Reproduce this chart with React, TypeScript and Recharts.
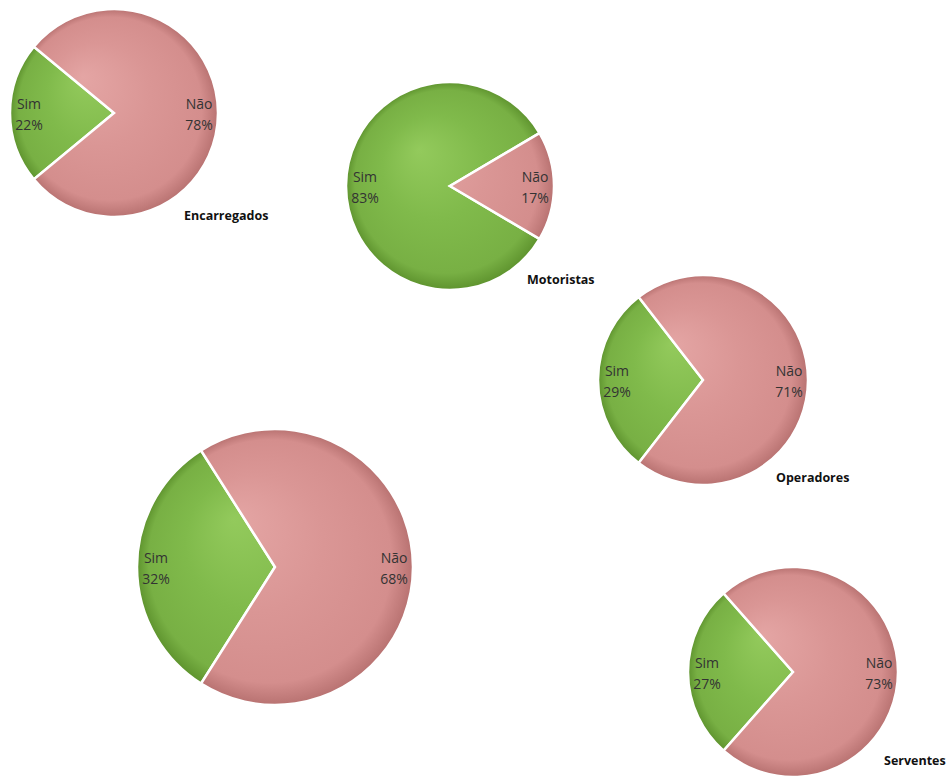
import React from "react";
import { PieChart, Pie, Cell } from "recharts";

const categories = ["Sim", "Não"];
const groups = ["Encarregados", "Motoristas", "Operadores", "", "Serventes"];
const encarregados = [22, 78];
const motoristas = [83, 17];
const operadores = [29, 71];
const geral = [32, 68];
const serventes = [27, 73];

const seriesList = [encarregados, motoristas, operadores, geral, serventes];

// where each pie sits on the page
const layout = [
  { cx: 114, cy: 113, r: 104, tx: 184, ty: 215 },
  { cx: 450, cy: 186, r: 104, tx: 527, ty: 279 },
  { cx: 703, cy: 380, r: 105, tx: 776, ty: 477 },
  { cx: 275, cy: 567, r: 138, tx: 0, ty: 0 },
  { cx: 793, cy: 672, r: 105, tx: 884, ty: 760 },
];

const PINK = ["#E4A5A4", "#DA9695", "#D48E8D", "#B87271"];
const GREEN = ["#93CA5C", "#80BA4B", "#78B044", "#5E932E"];

const RAD = Math.PI / 180;
const FONT = "'Open Sans', Lato, sans-serif";

function SliceLabel(props: any) {
  const { cx, cy, midAngle, outerRadius, name, value } = props;
  const rr = outerRadius - 19;
  const x = cx + rr * Math.cos(-midAngle * RAD);
  const y = cy + rr * Math.sin(-midAngle * RAD);
  return (
    <text x={x} y={y} textAnchor="middle" fill="#333" fontSize={14} fontFamily={FONT}>
      <tspan x={x} dy={-4}>
        {name}
      </tspan>
      <tspan x={x} dy={21}>
        {value}%
      </tspan>
    </text>
  );
}

function Gradient({ id, stops, cx, cy, r }: any) {
  return (
    <radialGradient
      id={id}
      gradientUnits="userSpaceOnUse"
      cx={cx}
      cy={cy}
      r={r}
      fx={cx - r * 0.3}
      fy={cy - r * 0.35}
    >
      <stop offset="0%" stopColor={stops[0]} />
      <stop offset="50%" stopColor={stops[1]} />
      <stop offset="88%" stopColor={stops[2]} />
      <stop offset="100%" stopColor={stops[3]} />
    </radialGradient>
  );
}

export default function App() {
  return (
    <div style={{ position: "absolute", left: 0, top: 0, background: "#fff" }}>
      <PieChart width={950} height={778} margin={{ top: 0, right: 0, bottom: 0, left: 0 }}>
        <defs>
          {layout.map((p, i) => (
            <React.Fragment key={i}>
              <Gradient id={`g-sim-${i}`} stops={GREEN} cx={p.cx} cy={p.cy} r={p.r} />
              <Gradient id={`g-nao-${i}`} stops={PINK} cx={p.cx} cy={p.cy} r={p.r} />
            </React.Fragment>
          ))}
        </defs>
        {seriesList.map((vals, i) => {
          const p = layout[i];
          const data = categories.map((c, k) => ({ name: c, value: vals[k] }));
          const start = 180 - (vals[0] * 3.6) / 2;
          return (
            <Pie
              key={i}
              data={data}
              dataKey="value"
              nameKey="name"
              cx={p.cx}
              cy={p.cy}
              outerRadius={p.r}
              startAngle={start}
              endAngle={start + 360}
              stroke="#fff"
              strokeWidth={2.5}
              label={SliceLabel}
              labelLine={false}
              isAnimationActive={false}
            >
              <Cell fill={`url(#g-sim-${i})`} />
              <Cell fill={`url(#g-nao-${i})`} />
            </Pie>
          );
        })}
        {groups.map((g, i) =>
          g ? (
            <text
              key={g}
              x={layout[i].tx}
              y={layout[i].ty}
              dominantBaseline="central"
              fontSize={12.5}
              fontWeight="bold"
              fill="#111"
              fontFamily={FONT}
            >
              {g}
            </text>
          ) : null
        )}
      </PieChart>
    </div>
  );
}
